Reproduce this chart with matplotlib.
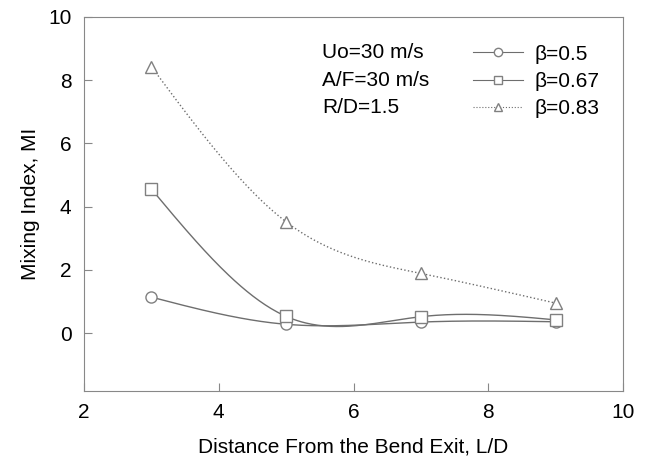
import numpy as np
import matplotlib.pyplot as plt

plt.rcParams['font.family'] = ['Liberation Sans', 'DejaVu Sans']

dist = [3, 5, 7, 9]
mi_050 = [1.14, 0.28, 0.35, 0.36]
mi_067 = [4.56, 0.53, 0.52, 0.42]
mi_083 = [8.43, 3.52, 1.89, 0.95]
notes = ['Uo=30 m/s', 'A/F=30 m/s', 'R/D=1.5']


def spline(x, y, n=200):
    # natural cubic spline through the points
    x = np.asarray(x, float)
    y = np.asarray(y, float)
    k = len(x)
    h = np.diff(x)
    A = np.zeros((k, k))
    b = np.zeros(k)
    A[0, 0] = A[-1, -1] = 1
    for i in range(1, k - 1):
        A[i, i - 1] = h[i - 1]
        A[i, i] = 2 * (h[i - 1] + h[i])
        A[i, i + 1] = h[i]
        b[i] = 6 * ((y[i + 1] - y[i]) / h[i] - (y[i] - y[i - 1]) / h[i - 1])
    m = np.linalg.solve(A, b)
    xs = np.linspace(x[0], x[-1], n)
    idx = np.clip(np.searchsorted(x, xs) - 1, 0, k - 2)
    t = xs - x[idx]
    hi = h[idx]
    a = y[idx]
    bb = (y[idx + 1] - y[idx]) / hi - hi * (2 * m[idx] + m[idx + 1]) / 6
    c = m[idx] / 2
    d = (m[idx + 1] - m[idx]) / (6 * hi)
    return xs, a + bb * t + c * t ** 2 + d * t ** 3


fig = plt.figure(figsize=(6.5, 4.58), dpi=100)
ax = fig.add_axes([84 / 650, 1 - 391 / 458, 539 / 650, 374 / 458])

lc = '#6e6e6e'
mk = dict(markerfacecolor='white', markeredgecolor='#808080',
          markeredgewidth=1)
series = [(mi_050, 'o', '-', 'β=0.5'),
          (mi_067, 's', '-', 'β=0.67'),
          (mi_083, '^', ':', 'β=0.83')]
handles = []
for vals, m, ls, lab in series:
    xs, ys = spline(dist, vals)
    ax.plot(xs, ys, color=lc, lw=1, ls=ls)
    ax.plot(dist, vals, ls='none', marker=m, markersize=8, **mk)
    h, = ax.plot([], [], color=lc, lw=0.8, ls=ls, marker=m, markersize=6,
                 label=lab, **mk)
    handles.append(h)

ax.set_xlim(2, 10)
ax.set_ylim(-1.83, 10)
ax.set_xticks([2, 4, 6, 8, 10])
ax.set_yticks([0, 2, 4, 6, 8, 10])
ax.tick_params(direction='in', length=6, color='#888888', labelsize=15,
               pad=9, top=False, right=False)
for s in ax.spines.values():
    s.set_color('#888888')

ax.set_xlabel('Distance From the Bend Exit, L/D', fontsize=15, labelpad=11)
ax.set_ylabel('Mixing Index, MI', fontsize=15, labelpad=6)

for i, t in enumerate(notes):
    ax.text(0.442, 0.904 - i * 0.0735, t, transform=ax.transAxes,
            fontsize=15, va='center')

ax.legend(handles=handles, loc='upper left', bbox_to_anchor=(0.722, 0.926),
          frameon=False, fontsize=15, handlelength=2.4, handletextpad=0.55,
          labelspacing=0.39, borderpad=0, borderaxespad=0)

fig.savefig('out.png')
